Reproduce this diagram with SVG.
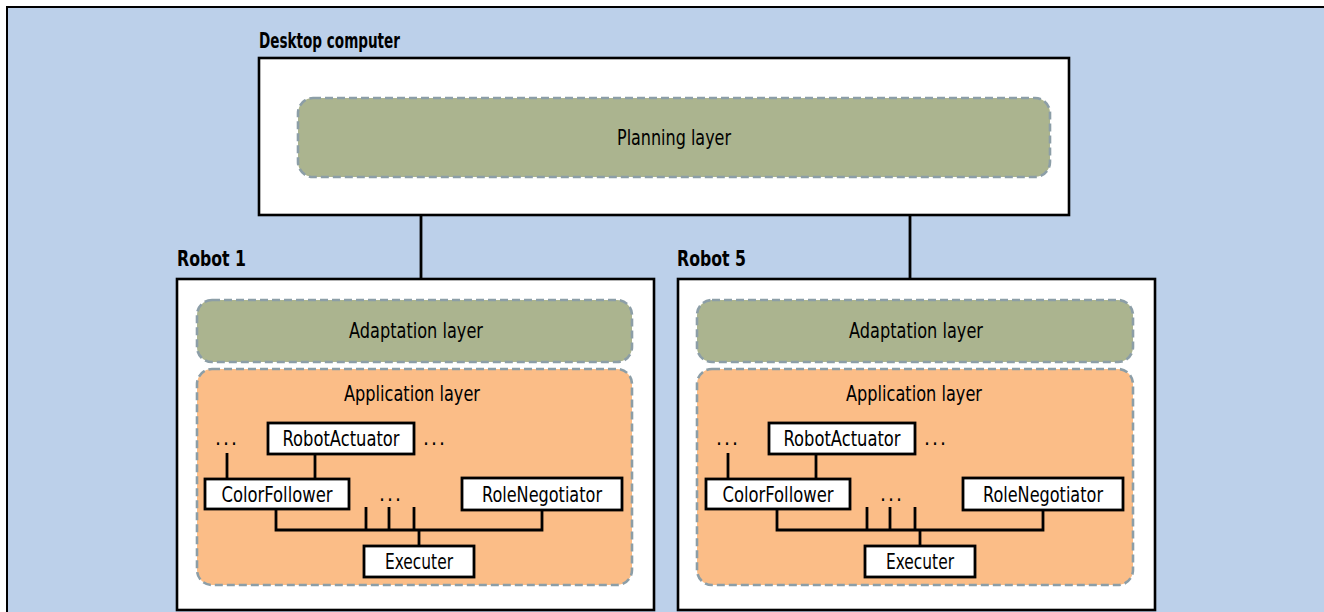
<svg xmlns="http://www.w3.org/2000/svg" width="1324" height="612" viewBox="0 0 1324 612">
  <style>
    .frame { fill: #ffffff; stroke: #000000; stroke-width: 2.6; }
    .plan { fill: #abb48f; stroke: #8c9ea7; stroke-width: 2.6; stroke-dasharray: 8 4; }
    .app { fill: #fbbd87; stroke: #8c9ea7; stroke-width: 2.6; stroke-dasharray: 8 4; }
    .comp { fill: #ffffff; stroke: #000000; stroke-width: 2.8; }
    .wire { fill: none; stroke: #000000; stroke-width: 2.8; }
    text { font-family: "Liberation Sans Narrow", "DejaVu Sans Condensed", "Liberation Sans", sans-serif; fill: #000000; }
    .title { font-size: 21px; font-weight: bold; }
    .label { font-size: 22px; }
    .name { font-size: 21px; }
    .dots { font-size: 21px; }
  </style>

  <!-- page background -->
  <rect x="0" y="0" width="1324" height="612" fill="#ffffff"/>
  <rect x="7" y="7" width="1330" height="620" fill="#bcd0ea" stroke="#000000" stroke-width="2"/>

  <!-- links between the machines -->
  <g id="connectors" class="wire">
    <line x1="421" y1="215" x2="421" y2="280"/>
    <line x1="910" y1="215" x2="910" y2="280"/>
  </g>

  <!-- desktop computer -->
  <g id="desktop">
    <text class="title" x="259" y="48" textLength="141" lengthAdjust="spacingAndGlyphs">Desktop computer</text>
    <rect class="frame" x="259" y="58" width="810" height="157"/>
  </g>
  <g id="planning-layer">
    <rect class="plan" x="298" y="98" width="752" height="79" rx="15"/>
    <text class="label" x="674" y="145" text-anchor="middle" textLength="114" lengthAdjust="spacingAndGlyphs">Planning layer</text>
  </g>

  <!-- robot 1 -->
  <g id="robot1">
    <text class="title" x="177" y="266" textLength="69" lengthAdjust="spacingAndGlyphs">Robot 1</text>
    <rect class="frame" x="177" y="279" width="477" height="331"/>
  </g>
  <g id="robot1-adaptation">
    <rect class="plan" x="197" y="300" width="435" height="62" rx="15"/>
    <text class="label" x="416" y="338" text-anchor="middle" textLength="134" lengthAdjust="spacingAndGlyphs">Adaptation layer</text>
  </g>
  <g id="robot1-application">
    <rect class="app" x="197" y="369" width="435" height="216" rx="15"/>
    <text class="label" x="412" y="401" text-anchor="middle" textLength="136" lengthAdjust="spacingAndGlyphs">Application layer</text>
  </g>
  <g id="robot1-wires" class="wire">
    <line x1="227" y1="453" x2="227" y2="479"/>
    <line x1="315" y1="454" x2="315" y2="479"/>
    <polyline points="276,509 276,530 542,530 542,510"/>
    <line x1="366" y1="507" x2="366" y2="530"/>
    <line x1="389" y1="507" x2="389" y2="530"/>
    <line x1="414" y1="507" x2="414" y2="530"/>
    <line x1="419" y1="530" x2="419" y2="546"/>
  </g>
  <g id="robot1-dots">
    <text class="dots" x="215" y="445" textLength="22" lengthAdjust="spacing">...</text>
    <text class="dots" x="423" y="445" textLength="22" lengthAdjust="spacing">...</text>
    <text class="dots" x="379" y="501" textLength="22" lengthAdjust="spacing">...</text>
  </g>
  <g id="robot1-actuator">
    <rect class="comp" x="268" y="423" width="146" height="31"/>
    <text class="name" x="341" y="446" text-anchor="middle" textLength="117" lengthAdjust="spacingAndGlyphs">RobotActuator</text>
  </g>
  <g id="robot1-colorfollower">
    <rect class="comp" x="205" y="479" width="144" height="30"/>
    <text class="name" x="277" y="502" text-anchor="middle" textLength="111" lengthAdjust="spacingAndGlyphs">ColorFollower</text>
  </g>
  <g id="robot1-rolenegotiator">
    <rect class="comp" x="462" y="478" width="160" height="32"/>
    <text class="name" x="542" y="502" text-anchor="middle" textLength="120" lengthAdjust="spacingAndGlyphs">RoleNegotiator</text>
  </g>
  <g id="robot1-executer">
    <rect class="comp" x="364" y="546" width="110" height="31"/>
    <text class="name" x="419" y="569" text-anchor="middle" textLength="68" lengthAdjust="spacingAndGlyphs">Executer</text>
  </g>

  <!-- robot 5 -->
  <g id="robot5">
    <text class="title" x="677" y="266" textLength="69" lengthAdjust="spacingAndGlyphs">Robot 5</text>
    <rect class="frame" x="678" y="279" width="477" height="331"/>
  </g>
  <g id="robot5-adaptation">
    <rect class="plan" x="697" y="300" width="436" height="62" rx="15"/>
    <text class="label" x="916" y="338" text-anchor="middle" textLength="134" lengthAdjust="spacingAndGlyphs">Adaptation layer</text>
  </g>
  <g id="robot5-application">
    <rect class="app" x="697" y="369" width="436" height="216" rx="15"/>
    <text class="label" x="914" y="401" text-anchor="middle" textLength="136" lengthAdjust="spacingAndGlyphs">Application layer</text>
  </g>
  <g id="robot5-wires" class="wire" transform="translate(501,0)">
    <line x1="227" y1="453" x2="227" y2="479"/>
    <line x1="315" y1="454" x2="315" y2="479"/>
    <polyline points="276,509 276,530 542,530 542,510"/>
    <line x1="366" y1="507" x2="366" y2="530"/>
    <line x1="389" y1="507" x2="389" y2="530"/>
    <line x1="414" y1="507" x2="414" y2="530"/>
    <line x1="419" y1="530" x2="419" y2="546"/>
  </g>
  <g id="robot5-dots" transform="translate(501,0)">
    <text class="dots" x="215" y="445" textLength="22" lengthAdjust="spacing">...</text>
    <text class="dots" x="423" y="445" textLength="22" lengthAdjust="spacing">...</text>
    <text class="dots" x="379" y="501" textLength="22" lengthAdjust="spacing">...</text>
  </g>
  <g id="robot5-actuator" transform="translate(501,0)">
    <rect class="comp" x="268" y="423" width="146" height="31"/>
    <text class="name" x="341" y="446" text-anchor="middle" textLength="117" lengthAdjust="spacingAndGlyphs">RobotActuator</text>
  </g>
  <g id="robot5-colorfollower" transform="translate(501,0)">
    <rect class="comp" x="205" y="479" width="144" height="30"/>
    <text class="name" x="277" y="502" text-anchor="middle" textLength="111" lengthAdjust="spacingAndGlyphs">ColorFollower</text>
  </g>
  <g id="robot5-rolenegotiator" transform="translate(501,0)">
    <rect class="comp" x="462" y="478" width="160" height="32"/>
    <text class="name" x="542" y="502" text-anchor="middle" textLength="120" lengthAdjust="spacingAndGlyphs">RoleNegotiator</text>
  </g>
  <g id="robot5-executer" transform="translate(501,0)">
    <rect class="comp" x="364" y="546" width="110" height="31"/>
    <text class="name" x="419" y="569" text-anchor="middle" textLength="68" lengthAdjust="spacingAndGlyphs">Executer</text>
  </g>
</svg>
